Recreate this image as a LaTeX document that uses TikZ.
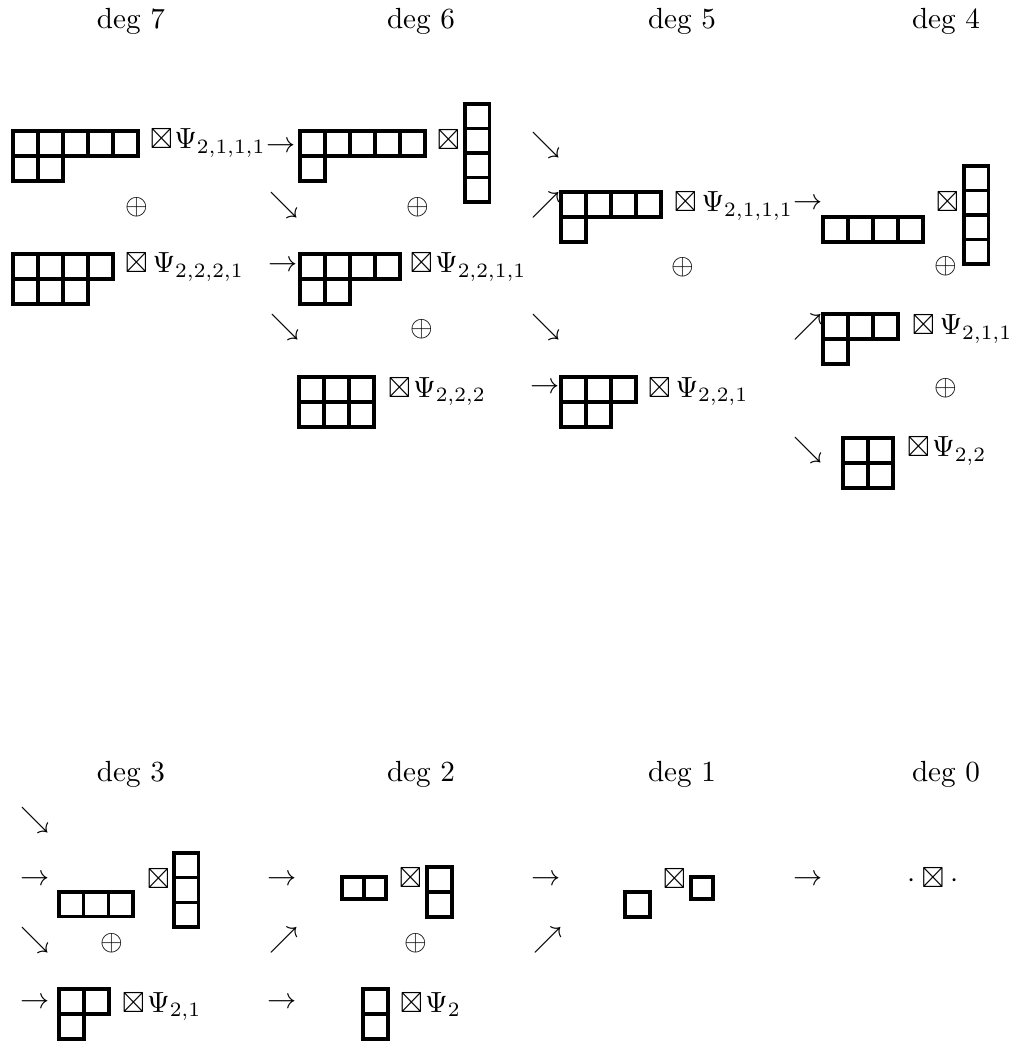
\documentclass[tikz,border=0pt]{standalone}
\usepackage{amssymb}
\tikzset{
  ybox/.style={draw, line width=1.15pt},
  tx/.style={inner sep=0pt, outer sep=0pt, anchor=base west},
  sym/.style={inner sep=0pt, outer sep=0pt, anchor=center},
  hdr/.style={inner sep=0pt, outer sep=0pt, anchor=base},
}
\newcommand{\YD}[4]{%
  \foreach \rl [count=\rw from 0] in {#4} {%
    \foreach \cl in {1,...,\rl} {%
      \draw[ybox] ({#1+(\cl-1)*#3},{#2+\rw*#3}) rectangle ++(#3,#3);%
    }%
  }%
}
\newcommand{\YC}[4]{% column of #4 boxes
  \foreach \cl in {1,...,#4} {%
    \draw[ybox] (#1,{#2+(\cl-1)*#3}) rectangle ++(#3,#3);%
  }%
}
\begin{document}
\begin{tikzpicture}[x=0.343pt,y=-0.343pt]
\useasboundingbox (0,0) rectangle (1013,1042);
% headers
\node[hdr] (h7) at (131,29) {deg 7};
\node[hdr] (h6) at (421,29) {deg 6};
\node[hdr] (h5) at (682,29) {deg 5};
\node[hdr] (h4) at (946,29) {deg 4};
\node[hdr] (h3) at (131,781) {deg 3};
\node[hdr] (h2) at (421,781) {deg 2};
\node[hdr] (h1) at (682,781) {deg 1};
\node[hdr] (h0) at (946,781) {deg 0};
% ---- deg 7
\YD{13}{131}{25}{5,2}
\node[tx] (t1) at (150,149) {$\boxtimes\mkern1mu\Psi_{2,1,1,1}$};
\node[sym] (p1) at (137,207) {$\oplus$};
\YD{13}{254}{25}{4,3}
\node[tx] (t2) at (125,273) {$\boxtimes\,\Psi_{2,2,2,1}$};
% ---- deg 6
\node[sym] (a1) at (281,147) {$\to$};
\YD{300}{131}{25}{5,1}
\node[tx] (t3) at (437,150) {$\boxtimes$};
\YC{465}{104}{24.5}{4}
\node[sym] (a2) at (284,205) {$\searrow$};
\node[sym] (p2) at (418,207) {$\oplus$};
\node[sym] (a3) at (283,266) {$\to$};
\YD{300}{254}{25}{4,2}
\node[tx] (t4) at (410,273) {$\boxtimes\mkern1.5mu\Psi_{2,2,1,1}$};
\node[sym] (a4) at (285,327) {$\searrow$};
\node[sym] (p3) at (422,329) {$\oplus$};
\YD{299}{377}{25}{3,3}
\node[tx] (t5) at (388,397) {$\boxtimes\mkern1.5mu\Psi_{2,2,2}$};
% ---- deg 5
\node[sym] (a5) at (546,145) {$\searrow$};
\node[sym] (a6) at (546,205) {$\nearrow$};
\YD{561}{192}{25}{4,1}
\node[tx] (t6) at (674,212) {$\boxtimes\,\Psi_{2,1,1,1}$};
\node[sym] (p4) at (683,267) {$\oplus$};
\node[sym] (a7) at (546,327) {$\searrow$};
\node[sym] (a8) at (545,388) {$\to$};
\YD{561}{377}{25}{3,2}
\node[tx] (t7) at (648,397) {$\boxtimes\,\Psi_{2,2,1}$};
% ---- deg 4
\node[sym] (a9) at (808,204) {$\to$};
\YD{823}{217}{25}{4}
\node[tx] (t8) at (936,212) {$\boxtimes$};
\YC{964}{166}{24.5}{4}
\node[sym] (p5) at (946,266) {$\oplus$};
\node[sym] (a10) at (808,327) {$\nearrow$};
\YD{823}{314}{25}{3,1}
\node[tx] (t9) at (912,335) {$\boxtimes\,\Psi_{2,1,1}$};
\node[sym] (p6) at (946,388) {$\oplus$};
\node[sym] (a11) at (808,450) {$\searrow$};
\YD{843}{438}{25}{2,2}
\node[tx] (t10) at (907,457) {$\boxtimes\mkern1.5mu\Psi_{2,2}$};
% ---- deg 3
\node[sym] (b1) at (35,820) {$\searrow$};
\node[sym] (b2) at (35,880) {$\to$};
\YD{59}{892}{24.7}{3}
\node[tx] (u1) at (147,888) {$\boxtimes$};
\YC{174}{853}{24.7}{3}
\node[sym] (b3) at (35,940) {$\searrow$};
\node[sym] (q1) at (112,943) {$\oplus$};
\node[sym] (b4) at (35,1003) {$\to$};
\YD{59}{989}{25}{2,1}
\node[tx] (u2) at (122,1012) {$\boxtimes\mkern1.5mu\Psi_{2,1}$};
% ---- deg 2
\node[sym] (b5) at (282,880) {$\to$};
\YD{342}{877}{22}{2}
\node[tx] (u3) at (399,887) {$\boxtimes$};
\YC{427}{867}{25}{2}
\node[sym] (b6) at (284,940) {$\nearrow$};
\node[sym] (q2) at (416,943) {$\oplus$};
\node[sym] (b7) at (282,1003) {$\to$};
\YC{363}{989}{25}{2}
\node[tx] (u4) at (400,1012) {$\boxtimes\mkern1.5mu\Psi_2$};
% ---- deg 1
\node[sym] (b8) at (546,880) {$\to$};
\YD{625}{892}{25}{1}
\node[tx] (u5) at (663,888) {$\boxtimes$};
\YD{691}{877}{22}{1}
\node[sym] (b9) at (548,940) {$\nearrow$};
% ---- deg 0
\node[sym] (b10) at (808,880) {$\to$};
\node[sym] (u6) at (933,878) {$\cdot\boxtimes\cdot$};
\end{tikzpicture}
\end{document}
